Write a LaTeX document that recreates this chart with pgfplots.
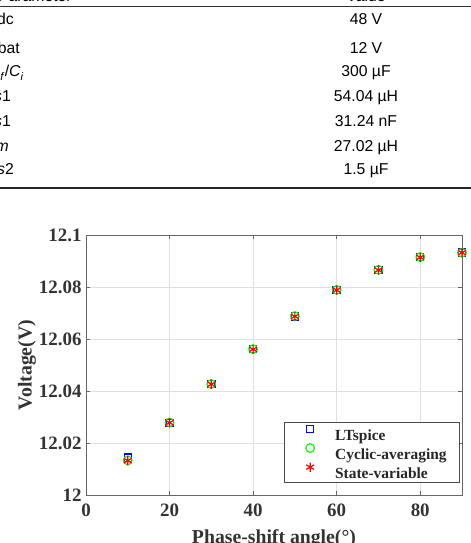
\documentclass[border=0pt]{standalone}
\usepackage{pgfplots}
\pgfplotsset{compat=1.18}
\usepackage{fontspec}
\setmainfont{Liberation Serif}
\newfontfamily\arial{Liberation Sans}

\begin{document}
\begin{tikzpicture}
\path[use as bounding box] (0bp,0bp) rectangle (471bp,543bp);
\clip (0bp,0bp) rectangle (471bp,543bp);
% ---- table fragment (tikz y = 543 - image y)
\begin{scope}[every node/.style={inner sep=0pt, font=\arial\fontsize{15.8}{18}\selectfont}]
\draw[line width=1bp, black!80] (0bp,536bp) -- (471bp,536bp);
\draw[line width=1.6bp, black!85] (0bp,355bp) -- (471bp,355bp);
\node[anchor=base] at (366bp,541bp) {Value};
\node[anchor=base west] at (-2bp,541bp) {Parameter};
\node[anchor=base] at (366bp,518bp) {48 V};
\node[anchor=base] at (366bp,489bp) {12 V};
\node[anchor=base] at (366bp,466bp) {300 µF};
\node[anchor=base] at (366bp,441bp) {54.04 µH};
\node[anchor=base] at (366bp,416.5bp) {31.24 nF};
\node[anchor=base] at (366bp,391.5bp) {27.02 µH};
\node[anchor=base] at (366bp,368bp) {1.5 µF};
\node[anchor=base east] at (14bp,518bp) {\textit{V}dc};
\node[anchor=base east] at (20bp,489bp) {\textit{V}bat};
\node[anchor=base east] at (24bp,466bp) {\textit{C}\textsubscript{\textit{f}}/\textit{C}\textsubscript{\textit{i}}};
\node[anchor=base east] at (11bp,441bp) {\textit{Ls}1};
\node[anchor=base east] at (11bp,416.5bp) {\textit{Cs}1};
\node[anchor=base east] at (9bp,391.5bp) {\textit{Lm}};
\node[anchor=base east] at (14bp,368bp) {\textit{Cs}2};
\end{scope}
% ---- chart
\begin{axis}[
  at={(86bp,48bp)}, anchor=south west,
  scale only axis, width=376bp, height=260bp,
  xmin=0, xmax=90, ymin=12, ymax=12.1,
  xtick={0,20,40,60,80},
  ytick={12,12.02,12.04,12.06,12.08,12.1},
  yticklabels={12,12.02,12.04,12.06,12.08,12.1},
  grid=major,
  major grid style={black!12, line width=0.6bp},
  axis line style={black!60, line width=0.7bp},
  tick align=inside, major tick length=4bp,
  tick style={black!60, line width=0.6bp},
  clip=false,
  /pgf/number format/assume math mode=true,
  ticklabel style={font=\fontsize{19}{21}\selectfont\bfseries, text=black!80},
  xticklabel style={yshift=-5.5bp},
  yticklabel style={xshift=-1bp},
  xlabel={Phase-shift angle(°)},
  ylabel={Voltage(V)},
  label style={font=\fontsize{19.8}{22}\selectfont\bfseries, text=black!80},
  xlabel style={at={(axis description cs:0.5,-0.168)}, anchor=center},
  ylabel style={at={(axis description cs:-0.157,0.5)}, anchor=center},
  legend style={at={(1,0)}, anchor=south east, xshift=-2bp, yshift=12bp,
    draw=black!70, line width=0.7bp, inner xsep=13bp, inner ysep=2bp,
    font=\fontsize{15.5}{17}\selectfont\bfseries, text=black!85,
    nodes={inner sep=0bp, text height=15.5bp, text depth=2.5bp},
    row sep=1bp, column sep=0bp, cells={anchor=west}},
  legend image code/.code={%
    \pgfpathrectangle{\pgfpoint{0bp}{0bp}}{\pgfpoint{38bp}{1bp}}\pgfusepath{discard}%
    \draw[mark repeat=2,mark phase=2] plot coordinates {(0bp,4.5bp) (13bp,4.5bp) (26bp,4.5bp)};},
]
\addplot[only marks, mark=square, mark size=3.6bp, blue, line width=1.2bp]
  coordinates {(10,12.0144) (20,12.0278) (30,12.0426) (40,12.0561) (50,12.0687) (60,12.0789) (70,12.0866) (80,12.0915) (90,12.0932)};
\addlegendentry{LTspice}
\addplot[only marks, mark=o, mark size=4.3bp, green, line width=1.2bp]
  coordinates {(10,12.0133) (20,12.0279) (30,12.0427) (40,12.0561) (50,12.0688) (60,12.0789) (70,12.0866) (80,12.0915) (90,12.0932)};
\addlegendentry{Cyclic-averaging}
\addplot[only marks, mark=asterisk, mark size=4.6bp, red, line width=1.2bp]
  coordinates {(10,12.0132) (20,12.0278) (30,12.0426) (40,12.0560) (50,12.0687) (60,12.0788) (70,12.0865) (80,12.0914) (90,12.0932)};
\addlegendentry{State-variable}
\end{axis}
\end{tikzpicture}
\end{document}
